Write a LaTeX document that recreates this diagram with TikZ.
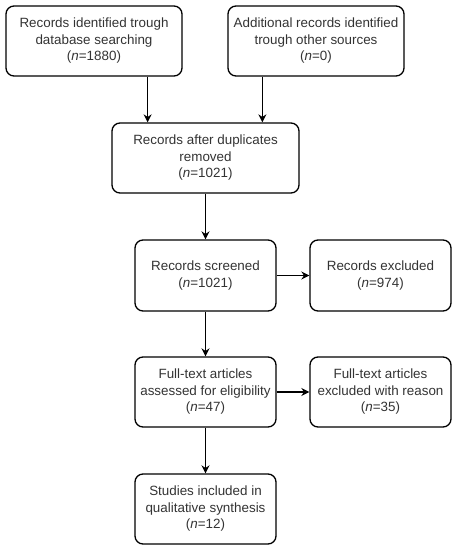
\documentclass[tikz,border=0pt]{standalone}
\usepackage{fontspec}
\setmainfont{Liberation Sans}
\usetikzlibrary{arrows.meta,calc}
\definecolor{txt}{HTML}{333333}
\tikzset{
  box/.style={draw=black, line width=1.3pt, rounded corners=8pt, align=center,
    text=txt, font=\fontsize{13.4}{16.5}\selectfont, inner sep=0pt},
  arr/.style={draw=black, line width=1.3pt, -{Stealth[length=8pt,width=8pt]}}
}
\begin{document}
\begin{tikzpicture}[x=1pt,y=-1pt]
\useasboundingbox (0,0) rectangle (456,550);
\node[box, minimum width=176pt, minimum height=70pt] (b1) at (94,41)
  {Records identified trough\\database searching\\(\textit{n}=1880)};
\node[box, minimum width=176pt, minimum height=70pt] (b2) at (316,41)
  {Additional records identified\\trough other sources\\(\textit{n}=0)};
\node[box, minimum width=187pt, minimum height=70pt] (b3) at (205.5,158)
  {Records after duplicates\\removed\\(\textit{n}=1021)};
\node[box, minimum width=141pt, minimum height=71pt] (b4) at (205.5,275.5)
  {Records screened\\(\textit{n}=1021)};
\node[box, minimum width=141pt, minimum height=71pt] (b5) at (380.5,275.5)
  {Records excluded\\(\textit{n}=974)};
\node[box, minimum width=141pt, minimum height=70pt] (b6) at (205.5,392)
  {Full-text articles\\assessed for eligibility\\(\textit{n}=47)};
\node[box, minimum width=141pt, minimum height=70pt] (b7) at (380.5,392)
  {Full-text articles\\excluded with reason\\(\textit{n}=35)};
\node[box, minimum width=141pt, minimum height=70pt] (b8) at (205.5,509)
  {Studies included in\\qualitative synthesis\\(\textit{n}=12)};
\coordinate (a1) at ([xshift=-35pt]b1.south east);
\coordinate (a2) at ([xshift=35pt]b2.south west);
\draw[arr] (a1) -- (a1 |- b3.north);
\draw[arr] (a2) -- (a2 |- b3.north);
\draw[arr] (b3) -- (b4);
\draw[arr] (b4) -- (b5);
\draw[arr] (b4) -- (b6);
\draw[arr] (b6) -- (b7);
\draw[arr] (b6) -- (b8);
\end{tikzpicture}
\end{document}
